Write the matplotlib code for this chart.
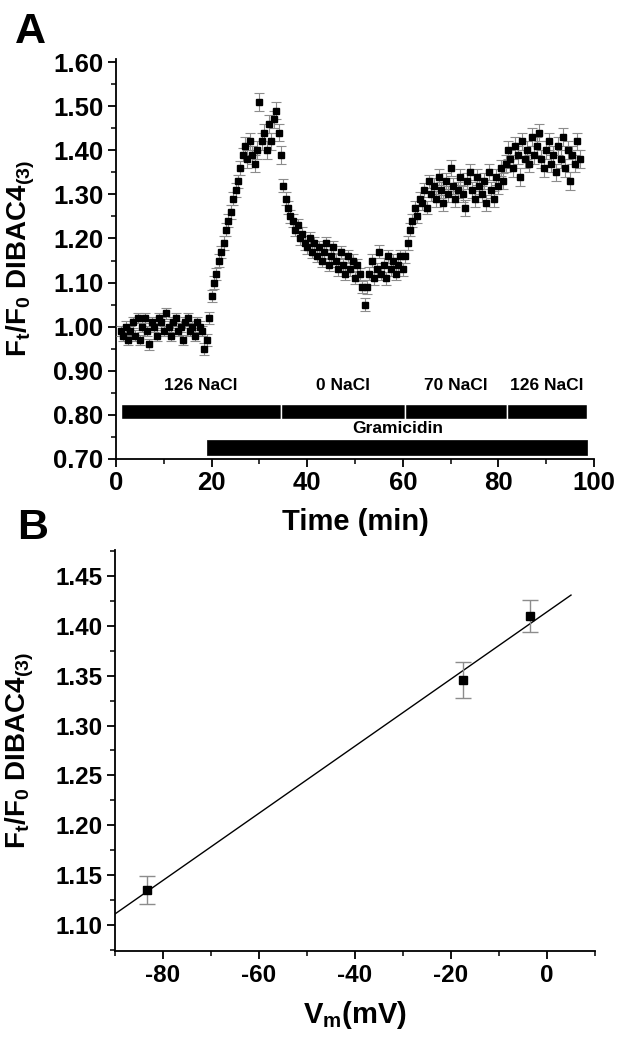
import numpy as np
import matplotlib
matplotlib.use('Agg')
import matplotlib.pyplot as plt
from matplotlib.ticker import MultipleLocator, FormatStrFormatter

plt.rcParams['font.family'] = ['Liberation Sans', 'DejaVu Sans']
plt.rcParams['font.weight'] = 'bold'
plt.rcParams['mathtext.fontset'] = 'custom'
plt.rcParams['mathtext.rm'] = 'Liberation Sans:bold'
plt.rcParams['mathtext.bf'] = 'Liberation Sans:bold'
plt.rcParams['mathtext.it'] = 'Liberation Sans:bold'
plt.rcParams['mathtext.default'] = 'rm'
plt.rcParams['axes.unicode_minus'] = False

# ---- Panel A: time course (min, Ft/F0), sampled every 0.5 min ----
t_start, t_step = 1.0, 0.5
ratio_baseline = [0.99, 0.98, 1.00, 0.97, 0.99, 1.01, 0.98, 1.02, 0.97, 1.00,
                  1.02, 0.99, 0.96, 1.01, 1.00, 0.98, 1.02, 1.01, 0.99, 1.03,
                  1.00, 0.98, 1.01, 1.02, 0.99, 1.00, 0.97, 1.01, 1.02, 0.99,
                  1.00, 0.98, 1.01, 1.00, 0.99]
ratio_gram_on = [0.95, 0.97, 1.02, 1.07, 1.10, 1.12, 1.15, 1.17]
ratio_rise = [1.19, 1.22, 1.24, 1.26, 1.29, 1.31, 1.33, 1.36, 1.39]
ratio_peak = [1.41, 1.38, 1.42, 1.39, 1.37, 1.40, 1.51, 1.42, 1.44, 1.40,
              1.46, 1.42, 1.47, 1.49, 1.44, 1.39]
ratio_fall = [1.32, 1.29, 1.27, 1.25, 1.24, 1.22, 1.23, 1.20, 1.21, 1.19, 1.18]
ratio_zero_na = [1.20, 1.17, 1.19, 1.16, 1.18, 1.15, 1.17, 1.19, 1.14, 1.16,
                 1.18, 1.15, 1.13, 1.17, 1.14, 1.12, 1.16, 1.13, 1.15, 1.11,
                 1.14, 1.12, 1.09, 1.05]
ratio_zero_na_end = [1.09, 1.12, 1.15, 1.11, 1.13, 1.17, 1.12, 1.14, 1.11, 1.16,
                     1.13, 1.15, 1.12, 1.14, 1.16, 1.13]
ratio_70_rise = [1.16, 1.19, 1.22, 1.24, 1.27, 1.25, 1.29, 1.28, 1.31, 1.27,
                 1.33, 1.30]
ratio_70 = [1.32, 1.29, 1.34, 1.31, 1.28, 1.33, 1.30, 1.36, 1.32, 1.29,
            1.31, 1.34, 1.30, 1.27, 1.33, 1.35, 1.31, 1.29, 1.34, 1.32,
            1.30, 1.33, 1.28, 1.35, 1.31, 1.29, 1.34, 1.32, 1.36, 1.33]
ratio_126_end = [1.37, 1.40, 1.38, 1.36, 1.41, 1.39, 1.34, 1.42, 1.38, 1.40,
                 1.37, 1.43, 1.39, 1.41, 1.44, 1.38, 1.36, 1.40, 1.42, 1.37,
                 1.39, 1.35, 1.41, 1.38, 1.43, 1.36, 1.40, 1.33, 1.39, 1.37,
                 1.42, 1.38]
segments = [ratio_baseline, ratio_gram_on, ratio_rise, ratio_peak, ratio_fall,
            ratio_zero_na, ratio_zero_na_end, ratio_70_rise, ratio_70, ratio_126_end]
segment_sem = [0.012, 0.014, 0.015, 0.02, 0.015, 0.014, 0.015, 0.015, 0.018, 0.02]

ratio_a = np.concatenate(segments)
sem_a = np.concatenate([[s] * len(seg) for s, seg in zip(segment_sem, segments)])
time_a = t_start + t_step * np.arange(len(ratio_a))

# treatment bars (start, end in min)
salt_labels = ['126 NaCl', '0 NaCl', '70 NaCl', '126 NaCl']
salt_start = [1.0, 34.6, 60.5, 81.7]
salt_end = [34.6, 60.5, 81.7, 98.6]
gram_start, gram_end = 19.1, 98.6

# ---- Panel B: membrane potential vs ratio ----
vm = [-83.4, -17.4, -3.5]
ratio_b = [1.135, 1.346, 1.410]
sem_b = [0.014, 0.018, 0.016]
fit_range = [-90, 5]

fig = plt.figure(figsize=(6.23, 10.46), dpi=100)
W, H = 623, 1046
axA = fig.add_axes([116 / W, 1 - 459 / H, 478 / W, 400 / H])
axB = fig.add_axes([115 / W, 1 - 951 / H, 480 / W, 401 / H])

err_gray = '#8c8c8c'

# panel A
axA.errorbar(time_a, ratio_a, yerr=sem_a, fmt='s', color='black', ms=4.3,
             ecolor=err_gray, elinewidth=0.8, capsize=3.5, capthick=0.8, zorder=3)

for lab, s, e in zip(salt_labels, salt_start, salt_end):
    axA.broken_barh([(s, e - s)], (0.79, 0.035), facecolor='black',
                    edgecolor='white', linewidth=1.0, zorder=2)
    axA.text((s + e) / 2, 0.866, lab, ha='center', va='center', fontsize=12.5,
             fontweight='bold')
axA.broken_barh([(gram_start, gram_end - gram_start)], (0.708, 0.034),
                facecolor='black', edgecolor='black', linewidth=0.5, zorder=2)
axA.text((gram_start + gram_end) / 2, 0.769, 'Gramicidin', ha='center',
         va='center', fontsize=12.5, fontweight='bold')

axA.set_xlim(0, 100)
axA.set_ylim(0.70, 1.607)
axA.set_xticks([0, 20, 40, 60, 80, 100])
axA.xaxis.set_minor_locator(MultipleLocator(10))
axA.set_yticks(np.arange(0.70, 1.601, 0.10))
axA.yaxis.set_minor_locator(MultipleLocator(0.05))
axA.yaxis.set_major_formatter(FormatStrFormatter('%.2f'))
axA.set_xlabel('Time (min)', fontsize=21, fontweight='bold', labelpad=9)
axA.set_ylabel(r'F$_{t}$/F$_{0}$ DIBAC4$_{(3)}$', fontsize=20, fontweight='bold')
axA.yaxis.set_label_coords(-0.165, 0.5)

# panel B
axB.errorbar(vm, ratio_b, yerr=sem_b, fmt='s', color='black', ms=6,
             ecolor=err_gray, elinewidth=1.0, capsize=6, capthick=1.0, zorder=3)
slope, icept = np.polyfit(vm, ratio_b, 1)
xf = np.array(fit_range, dtype=float)
axB.plot(xf, slope * xf + icept, color='black', lw=1.0, zorder=2)

axB.set_xlim(-90, 10)
axB.set_ylim(1.074, 1.476)
axB.set_xticks([-80, -60, -40, -20, 0])
axB.xaxis.set_minor_locator(MultipleLocator(10))
axB.set_yticks(np.arange(1.10, 1.451, 0.05))
axB.yaxis.set_minor_locator(MultipleLocator(0.025))
axB.yaxis.set_major_formatter(FormatStrFormatter('%.2f'))
axB.set_xlabel(r'V$_{m}$(mV)', fontsize=21, fontweight='bold', labelpad=9)
axB.set_ylabel(r'F$_{t}$/F$_{0}$ DIBAC4$_{(3)}$', fontsize=20, fontweight='bold')
axB.yaxis.set_label_coords(-0.165, 0.5)

for ax, lsize in [(axA, 18.5), (axB, 17.5)]:
    for side in ['top', 'right']:
        ax.spines[side].set_visible(False)
    for side in ['left', 'bottom']:
        ax.spines[side].set_linewidth(1.3)
    ax.tick_params(which='major', direction='out', length=6, width=1.3,
                   labelsize=lsize, pad=3)
    ax.tick_params(which='minor', direction='out', length=3.5, width=1.1)
    for lbl in ax.get_xticklabels() + ax.get_yticklabels():
        lbl.set_fontweight('bold')

fig.text(15 / W, 1 - 43 / H, 'A', fontsize=31, fontweight='bold', va='baseline')
fig.text(17 / W, 1 - 539 / H, 'B', fontsize=31, fontweight='bold', va='baseline')

fig.savefig('out.png', dpi=100)
